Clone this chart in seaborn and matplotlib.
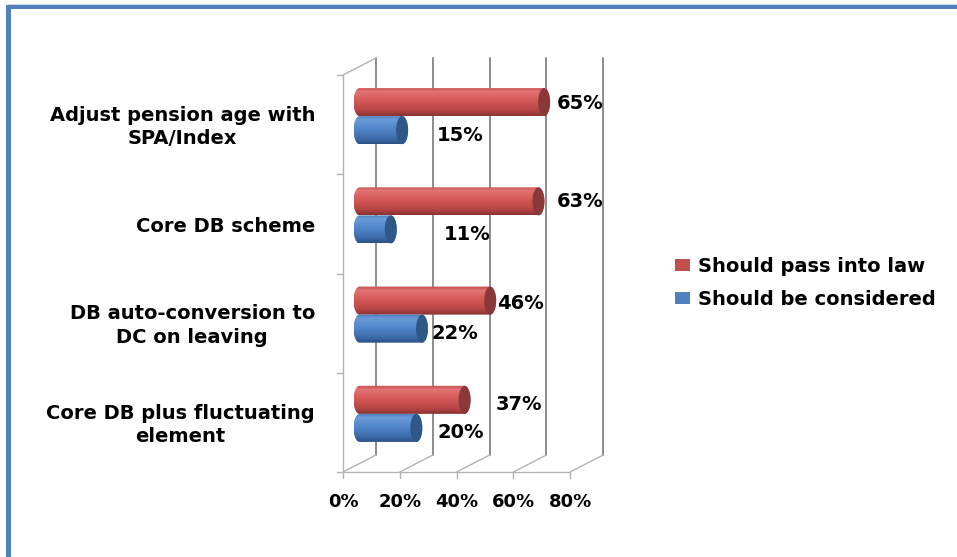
import numpy as np
import pandas as pd
import matplotlib
matplotlib.use("Agg")
import matplotlib.pyplot as plt
import seaborn as sns
from matplotlib.patches import Polygon, Ellipse, Patch, Rectangle
from matplotlib.colors import LinearSegmentedColormap

categories = [
    "Adjust pension age with\nSPA/Index",
    "Core DB scheme",
    "DB auto-conversion to\nDC on leaving",
    "Core DB plus fluctuating\nelement",
]
series = ["Should pass into law", "Should be considered"]
pass_into_law = [65, 63, 46, 37]
be_considered = [15, 11, 22, 20]
x_ticks = [0, 20, 40, 60, 80]
x_tick_labels = ["0%", "20%", "40%", "60%", "80%"]
# value-axis position of the left edge of each data label
pass_label_x = [69.5, 69.5, 48.4, 48.1]
consider_label_x = [27.3, 29.8, 25.5, 27.3]
# vertical nudge (pixels, downward) of each data label from its bar's centre
pass_label_dy = [1, 0.5, 3, 5]
consider_label_dy = [5, 5, 5, 5]

df = pd.DataFrame({
    "category": categories * 2,
    "series": [series[0]] * len(categories) + [series[1]] * len(categories),
    "value": pass_into_law + be_considered,
})

sns.set_theme(style="white")
plt.rcParams["font.family"] = ["DejaVu Sans"]
plt.rcParams["text.color"] = "black"

W, H = 957, 557
fig = plt.figure(figsize=(W / 100, H / 100), dpi=100)

# pixel geometry of the plotting box (mid-depth plane of the 3-D box)
PX = 2.84      # pixels per percent
CAT = 99.25    # pixels per category
X0 = 359.5     # pixel column of 0 %
Y0 = 66.5      # pixel row of the top of the first category
xlim = (-14, 90)
ylim = (3.7, -0.7)
left_px = X0 + xlim[0] * PX
width_px = (xlim[1] - xlim[0]) * PX
top_px = Y0 + (ylim[1] + 0.5) * CAT
height_px = (ylim[0] - ylim[1]) * CAT
ax = fig.add_axes([left_px / W, 1 - (top_px + height_px) / H, width_px / W, height_px / H])

red, blue = "#c0504d", "#4f81bd"
sns.barplot(data=df, x="value", y="category", hue="series", hue_order=series,
            order=categories, orient="h", width=0.565, palette=[red, blue],
            saturation=1, errorbar=None, legend=False, ax=ax)

# depth offsets of the front and back planes, in data units
DX = 16.5 / PX
DY = 8.5 / CAT

grid_back = "#8c8c8c"
grid_light = "#b3b3b3"
front_y = len(categories) - 0.5 + DY
back_y = len(categories) - 0.5 - DY
top_front = -0.5 + DY
top_back = -0.5 - DY

# back wall gridlines and floor diagonals
for v in x_ticks:
    ax.plot([v + DX, v + DX], [back_y, top_back], color=grid_back, lw=1.4,
            clip_on=False, zorder=1)
    ax.plot([v - DX, v + DX], [front_y, back_y], color=grid_light, lw=1.0,
            clip_on=False, zorder=1)
    ax.plot([v - DX, v - DX], [front_y, front_y + 6 / CAT], color=grid_light,
            lw=1.0, clip_on=False, zorder=1)
# front floor edge
ax.plot([x_ticks[0] - DX, x_ticks[-1] - DX], [front_y, front_y], color=grid_light,
        lw=1.0, clip_on=False, zorder=1)
# left wall front edge, top edge and category ticks
ax.plot([-DX, -DX], [top_front, front_y], color=grid_light, lw=1.0, clip_on=False, zorder=1)
ax.plot([-DX, DX], [top_front, top_back], color=grid_light, lw=1.0, clip_on=False, zorder=1)
for k in range(len(categories) + 1):
    yk = k - 0.5 + DY
    ax.plot([-DX - 6 / PX, -DX], [yk, yk], color=grid_light, lw=1.0, clip_on=False, zorder=1)

# cylinder shading
cmaps = [
    LinearSegmentedColormap.from_list("redcyl", [
        (0.0, "#c24b4b"), (0.15, "#e27474"), (0.45, "#d65a5a"),
        (0.8, "#b84545"), (1.0, "#8a3232")]),
    LinearSegmentedColormap.from_list("bluecyl", [
        (0.0, "#4779b8"), (0.15, "#6b9bd8"), (0.45, "#5288cc"),
        (0.8, "#3e6dab"), (1.0, "#2c5184")]),
]
cap_colors = ["#8b3838", "#2f5788"]
RX = 6 / PX
grad = np.linspace(0, 1, 128).reshape(-1, 1)
t = np.linspace(0, np.pi, 40)

FS = 14
label_xs = [pass_label_x, consider_label_x]
label_dys = [pass_label_dy, consider_label_dy]
values = [pass_into_law, be_considered]
for i, cont in enumerate(ax.containers):
    for j, bar in enumerate(cont):
        x0 = bar.get_x()
        w = bar.get_width()
        y = bar.get_y()
        h = bar.get_height()
        yc = y + h / 2
        x1 = x0 + w
        bar.set_visible(False)
        ry = h / 2
        left = np.column_stack([x0 - RX * np.sin(t), yc - ry * np.cos(t)])
        right = np.column_stack([x1 + RX * np.sin(t), yc + ry * np.cos(t)])
        body = Polygon(np.vstack([left, right]), closed=True, facecolor="none",
                       edgecolor="none", transform=ax.transData)
        ax.add_patch(body)
        im = ax.imshow(grad, cmap=cmaps[i], aspect="auto", origin="upper",
                       extent=(x0 - RX, x1 + RX, y + h, y), zorder=3,
                       interpolation="bilinear")
        im.set_clip_path(body)
        ax.add_patch(Ellipse((x1, yc), 2 * RX, h, facecolor=cap_colors[i],
                             edgecolor="none", zorder=4))
        ax.text(label_xs[i][j], yc + label_dys[i][j] / CAT, f"{values[i][j]}%",
                ha="left", va="center", fontsize=FS, fontweight="bold",
                color="black", zorder=5)

ax.set_xlim(*xlim)
ax.set_ylim(*ylim)
ax.axis("off")

# value-axis labels on the front plane
tick_y = (502 - Y0) / CAT - 0.5
for v, lab in zip(x_ticks, x_tick_labels):
    ax.text(v - DX, tick_y, lab, ha="center", va="center", fontsize=13,
            fontweight="bold", color="black")

# category labels
cat_x = (315 - X0) / PX
for k, cat in enumerate(categories):
    ax.text(cat_x, k + DY + 2.5 / CAT, cat, ha="right", va="center",
            multialignment="center", fontsize=FS, fontweight="bold",
            color="black", linespacing=1.3)

handles = [Patch(facecolor=red, edgecolor="none"), Patch(facecolor=blue, edgecolor="none")]
fig.legend(handles, series, loc="center left", bbox_to_anchor=(675 / W, 1 - 283 / H),
           frameon=False, prop={"weight": "bold", "size": FS}, borderpad=0,
           borderaxespad=0, handlelength=0.77, handleheight=0.52,
           handletextpad=0.42, labelspacing=0.72, labelcolor="black")

# chart-area border
fig.add_artist(Rectangle((6 / W, 0), 5 / W, 1 - 5 / H, transform=fig.transFigure,
                         facecolor=blue, edgecolor="none"))
fig.add_artist(Rectangle((6 / W, 1 - 9 / H), 1 - 6 / W, 4 / H, transform=fig.transFigure,
                         facecolor=blue, edgecolor="none"))
fig.add_artist(Rectangle((8 / W, 1 - 5 / H), 1 - 8 / W, 1 / H, transform=fig.transFigure,
                         facecolor="#c8d2dc", edgecolor="none"))

fig.savefig("out.png", dpi=100)
